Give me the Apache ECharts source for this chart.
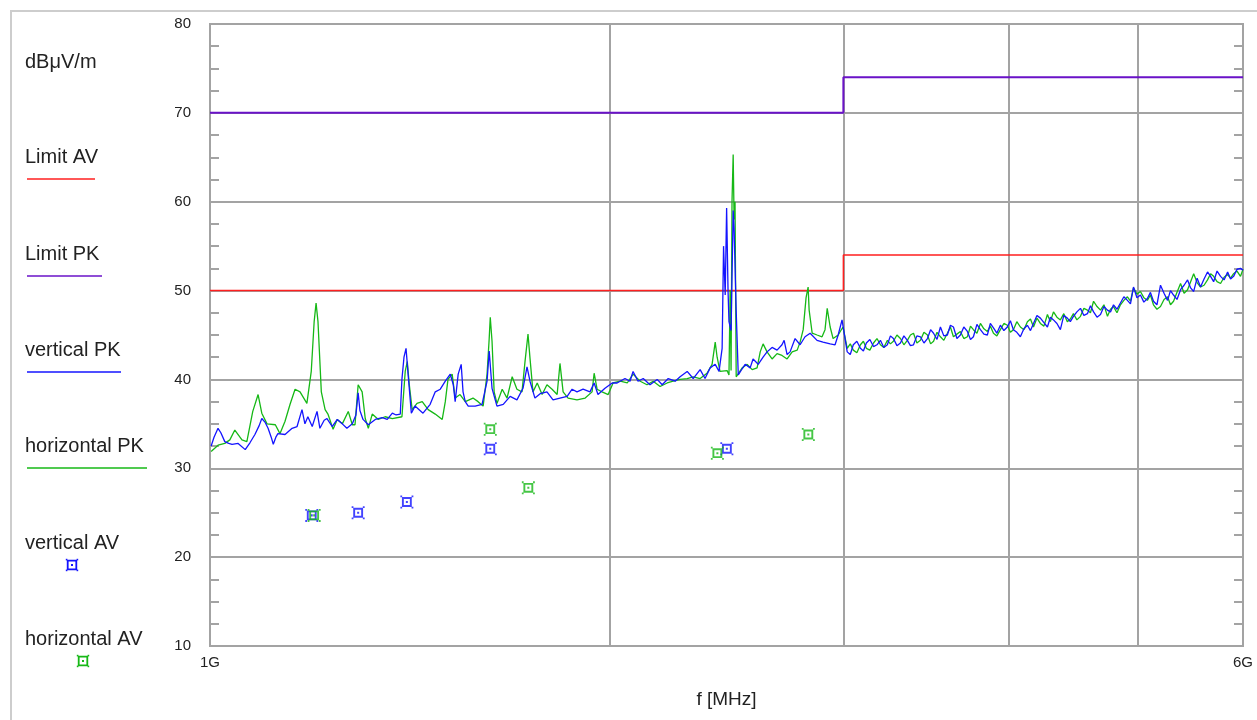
<!DOCTYPE html>
<html lang="en">
<head>
<meta charset="UTF-8">
<title>Radiated emission 1-6 GHz</title>
<script src="https://cdn.jsdelivr.net/npm/echarts@6/dist/echarts.min.js"></script>
<style>
  html, body { margin: 0; padding: 0; background: #fff; }
  #paint { width: 1257px; height: 720px; }
</style>
</head>
<body>
<div id="paint"></div>
<script>
// limits, MHz / dBuV/m
var limitFreq = [1000, 3000, 3000, 6000];
var limitAV = [50, 50, 54, 54];
var limitPK = [70, 70, 74, 74];

var xTickFreq = [1000, 2000, 3000, 4000, 5000, 6000];
var xLabelFreq = [1000, 6000];

// peak traces [MHz, dBuV/m]
var verticalPK = [
  [1002,32.5],[1007,33.5],[1014,34.5],[1019,34.0],[1026,33.0],[1033,32.8],[1039,32.7],[1050,32.8],[1063,32.1],[1072,32.9],
  [1081,33.8],[1089,34.8],[1094,35.6],[1100,35.2],[1106,34.5],[1112,33.5],[1116,32.7],[1121,33.5],[1125,33.9],[1139,33.8],
  [1153,34.5],[1163,34.7],[1173,36.6],[1179,35.0],[1185,35.8],[1194,34.7],[1204,36.4],[1210,34.5],[1219,35.4],[1225,35.6],
  [1236,34.7],[1247,35.5],[1258,35.0],[1268,34.5],[1280,35.0],[1288,36.0],[1293,38.5],[1297,36.5],[1304,35.5],[1316,34.9],
  [1332,35.5],[1348,35.7],[1360,35.5],[1372,36.2],[1381,36.0],[1391,36.1],[1395,40.0],[1400,42.5],[1405,43.5],[1410,40.6],
  [1418,36.2],[1427,37.0],[1447,36.2],[1465,37.2],[1478,38.6],[1491,38.9],[1504,39.8],[1517,40.6],[1525,39.4],[1530,37.5],
  [1538,40.6],[1546,41.7],[1551,38.6],[1557,37.5],[1565,37.0],[1584,37.0],[1603,37.2],[1617,39.8],[1623,43.2],[1631,39.0],
  [1645,37.0],[1663,37.2],[1683,38.1],[1703,37.7],[1721,39.0],[1733,41.4],[1742,39.8],[1757,37.9],[1773,38.4],[1794,38.6],
  [1813,37.7],[1835,37.9],[1858,38.1],[1874,38.9],[1890,38.6],[1910,38.9],[1933,38.6],[1947,39.6],[1960,38.3],[1984,39.0],
  [2009,39.6],[2026,39.6],[2054,40.1],[2072,39.8],[2083,40.9],[2101,39.8],[2120,40.1],[2145,39.4],[2172,40.0],[2191,39.4],
  [2214,40.1],[2241,39.8],[2260,40.3],[2288,40.9],[2312,40.1],[2340,41.1],[2360,40.1],[2381,41.3],[2402,41.7],[2418,40.9],
  [2431,43.5],[2437,55.0],[2444,49.5],[2450,59.3],[2456,50.0],[2460,46.5],[2469,45.5],[2478,59.0],[2482,57.0],[2491,47.7],
  [2500,40.5],[2517,41.2],[2530,41.7],[2552,41.3],[2565,42.3],[2588,41.7],[2610,42.5],[2628,43.1],[2651,43.6],[2674,43.3],
  [2697,43.9],[2707,44.4],[2721,42.8],[2735,43.1],[2759,44.6],[2783,43.9],[2807,44.8],[2832,45.2],[2866,44.4],[2896,44.2],
  [2932,44.0],[2957,43.9],[2973,45.0],[2993,46.7],
  [3020,43.1],[3036,42.8],[3052,43.9],[3071,44.3],[3090,43.5],[3106,43.2],[3122,44.1],[3141,44.5],[3161,43.7],[3180,43.9],
  [3199,44.4],[3218,43.6],[3238,43.9],[3255,44.9],[3272,44.6],[3292,43.8],[3312,44.1],[3332,44.9],[3352,44.4],[3370,43.8],
  [3388,43.9],[3408,44.9],[3429,44.8],[3450,44.1],[3471,44.6],[3490,45.6],[3508,45.2],[3529,44.5],[3550,45.9],[3571,44.9],
  [3593,45.0],[3612,46.1],[3631,45.9],[3653,44.6],[3675,45.0],[3697,45.9],[3720,45.4],[3740,44.5],[3759,44.8],[3782,46.2],
  [3805,45.6],[3828,45.1],[3851,45.0],[3871,46.3],[3892,45.8],[3915,45.2],[3939,46.1],[3963,45.5],[3987,45.9],[4008,46.6],
  [4029,45.6],[4053,45.3],[4078,44.8],[4103,45.7],[4128,46.1],[4150,45.5],[4172,46.3],[4197,47.2],[4222,46.9],[4248,46.4],
  [4274,45.9],[4296,47.0],[4319,46.7],[4345,46.3],[4371,45.6],[4397,47.2],[4424,46.9],[4447,46.5],[4471,47.1],[4498,47.6],
  [4526,48.0],[4553,47.2],[4581,47.4],[4605,48.3],[4630,47.6],[4658,47.0],[4686,47.3],[4714,48.2],[4743,47.8],[4768,47.6],
  [4793,48.4],[4822,47.9],[4851,48.6],[4880,49.3],[4910,48.9],[4936,48.5],[4962,50.4],[4992,49.2],[5022,49.5],[5052,48.7],
  [5083,49.1],[5110,49.8],[5137,48.8],[5168,48.4],[5200,50.6],[5232,49.7],[5264,48.9],[5291,50.0],[5319,49.5],[5351,49.0],
  [5384,50.1],[5417,50.6],[5450,51.2],[5479,50.3],[5508,49.9],[5541,51.4],[5574,50.4],[5608,51.3],[5642,52.1],[5672,51.6],
  [5702,51.0],[5736,52.2],[5771,51.6],[5806,51.2],[5842,52.1],[5872,51.3],[5903,51.6],[5938,52.4],[5974,52.5],[6000,52.3]
];

var horizontalPK = [
  [1002,31.9],[1014,32.6],[1026,32.8],[1035,33.2],[1044,34.3],[1057,33.2],[1066,33.0],[1077,36.4],[1087,38.3],[1094,36.2],
  [1104,35.0],[1120,34.9],[1129,33.9],[1139,35.3],[1149,37.2],[1159,38.9],[1169,38.6],[1183,37.3],[1192,40.9],[1198,46.5],
  [1202,48.6],[1206,46.5],[1213,38.6],[1221,36.6],[1227,36.1],[1238,34.4],[1247,35.5],[1258,35.0],[1271,36.4],[1280,34.9],
  [1286,34.9],[1293,39.4],[1302,38.6],[1309,35.6],[1316,34.5],[1325,36.1],[1339,35.5],[1355,35.8],[1372,35.6],[1395,35.8],
  [1403,40.9],[1408,42.0],[1413,39.4],[1420,36.6],[1432,37.3],[1445,37.5],[1460,36.6],[1478,36.1],[1496,35.5],[1504,37.5],
  [1511,40.0],[1522,40.6],[1530,37.9],[1543,38.3],[1557,37.5],[1578,37.9],[1592,37.5],[1606,37.0],[1617,40.6],[1623,44.6],
  [1626,47.0],[1631,44.3],[1637,38.6],[1645,37.3],[1660,38.9],[1674,37.9],[1689,40.3],[1703,38.9],[1718,38.6],[1727,42.0],
  [1736,45.1],[1742,42.4],[1751,38.6],[1764,39.6],[1779,38.3],[1794,39.4],[1810,38.9],[1826,38.3],[1835,41.8],[1845,38.6],
  [1861,37.9],[1890,37.7],[1917,37.9],[1940,38.6],[1947,40.7],[1957,38.9],[1974,38.6],[1995,38.3],[2012,39.6],[2037,39.8],
  [2062,39.6],[2083,40.6],[2109,39.8],[2134,39.4],[2157,39.8],[2183,39.2],[2210,39.6],[2233,39.8],[2260,40.0],[2288,40.1],
  [2312,40.3],[2340,40.1],[2368,40.7],[2389,41.7],[2402,44.2],[2410,42.5],[2422,40.9],[2452,41.0],[2460,40.5],[2465,50.0],
  [2469,41.0],[2473,60.0],[2478,65.3],[2482,58.0],[2486,60.0],[2491,40.3],[2517,41.3],[2539,41.7],[2561,41.1],[2583,41.3],
  [2597,43.1],[2610,44.0],[2628,43.1],[2651,42.3],[2674,42.9],[2697,42.7],[2721,42.3],[2745,43.1],[2769,43.3],[2783,44.2],
  [2798,45.6],[2812,49.2],[2822,50.4],[2827,47.8],[2842,45.2],[2866,45.0],[2891,44.8],[2906,45.6],[2917,48.0],[2932,45.9],
  [2947,44.6],[2973,45.0],[2998,45.9],
  [3020,43.5],[3036,44.0],[3052,43.3],[3071,43.0],[3090,43.9],[3106,44.3],[3122,43.5],[3141,43.3],[3161,44.1],[3180,44.6],
  [3199,43.9],[3218,43.6],[3238,44.4],[3255,44.0],[3272,44.3],[3292,45.0],[3312,44.6],[3332,43.9],[3352,44.4],[3370,45.0],
  [3388,45.2],[3408,44.1],[3429,44.4],[3450,45.3],[3471,45.0],[3490,44.0],[3508,44.3],[3529,45.3],[3550,44.8],[3571,44.4],
  [3593,45.2],[3612,45.9],[3631,44.8],[3653,45.1],[3675,45.4],[3697,44.6],[3720,44.8],[3740,46.0],[3759,45.6],[3782,45.2],
  [3805,46.3],[3828,45.7],[3851,45.4],[3871,46.0],[3892,45.2],[3915,44.9],[3939,45.6],[3963,46.3],[3987,46.1],[4008,45.3],
  [4029,45.6],[4053,46.5],[4078,45.9],[4103,45.6],[4128,46.5],[4150,46.8],[4172,45.9],[4197,46.9],[4222,46.3],[4248,46.0],
  [4274,47.3],[4296,46.5],[4319,47.6],[4345,47.0],[4371,46.7],[4397,47.4],[4424,46.5],[4447,46.8],[4471,47.4],[4498,46.7],
  [4526,47.1],[4553,48.0],[4581,47.8],[4605,47.5],[4630,48.8],[4658,48.2],[4686,47.8],[4714,48.4],[4743,47.1],[4768,47.9],
  [4793,48.2],[4822,47.5],[4851,48.4],[4880,48.9],[4910,49.3],[4936,48.8],[4962,50.3],[4992,49.6],[5022,49.9],[5052,49.2],
  [5083,48.9],[5110,49.5],[5137,48.4],[5168,47.9],[5200,48.2],[5232,49.0],[5264,49.3],[5291,48.4],[5319,48.8],[5351,49.8],
  [5384,50.8],[5417,49.7],[5450,50.1],[5479,51.0],[5508,51.9],[5541,50.9],[5574,50.4],[5608,50.6],[5642,51.2],[5672,51.9],
  [5702,51.6],[5736,51.0],[5771,50.8],[5806,51.5],[5842,51.8],[5872,51.4],[5903,51.9],[5938,52.2],[5974,51.6],[6000,52.4]
];

// average readings
var verticalAV = [[1193,24.7],[1293,25.0],[1407,26.2],[1626,32.2],[2451,32.2]];
var horizontalAV = [[1198,24.7],[1626,34.4],[1737,27.8],[2411,31.7],[2823,33.8]];

var cRed = '#ff1f1f', cPurple = '#6a12c8', cBlue = '#1414ff', cGreen = '#16b816';
var cGrid = '#a3a3a3', cText = '#222';
var fontName = 'Liberation Sans, Arial, sans-serif';

// square ring with centre dot and corner stubs
var marker = 'path://M1.6,1.6H10.4V10.4H1.6Z M3.3,3.3V8.7H8.7V3.3Z M5.1,5.1H6.9V6.9H5.1Z ' +
             'M0.2,0.2H1.8V1.8H0.2Z M10.2,0.2H11.8V1.8H10.2Z M0.2,10.2H1.8V11.8H0.2Z M10.2,10.2H11.8V11.8H10.2Z';

function toLog(pairs) {
  return pairs.map(function (p) { return [Math.log10(p[0]), p[1]]; });
}
function zipLimit(vals) {
  return limitFreq.map(function (f, i) { return [Math.log10(f), vals[i]]; });
}

var legendItems = [
  {text: 'Limit AV', color: cRed, y: 157, lineEnd: 95},
  {text: 'Limit PK', color: cPurple, y: 254, lineEnd: 102},
  {text: 'vertical PK', color: cBlue, y: 350, lineEnd: 121},
  {text: 'horizontal PK', color: cGreen, y: 446, lineEnd: 147},
  {text: 'vertical AV', color: cBlue, y: 543, markX: 72},
  {text: 'horizontal AV', color: cGreen, y: 639, markX: 83}
];

// legend marker built from small rects
function markerGroup(cx, cy, color) {
  var kids = [
    {type: 'rect', shape: {x: -4.3, y: -4.3, width: 8.6, height: 8.6}, style: {fill: 'none', stroke: color, lineWidth: 1.8}},
    {type: 'rect', shape: {x: -1, y: -1, width: 2, height: 2}, style: {fill: color}}
  ];
  [[-6.2, -6.2], [4.6, -6.2], [-6.2, 4.6], [4.6, 4.6]].forEach(function (c) {
    kids.push({type: 'rect', shape: {x: c[0], y: c[1], width: 1.6, height: 1.6}, style: {fill: color}});
  });
  return {type: 'group', x: cx, y: cy, children: kids};
}

var graphics = [
  {type: 'rect', silent: true, z: -10, shape: {x: 11, y: 11, width: 1300, height: 800},
   style: {fill: 'none', stroke: '#cdcdcd', lineWidth: 2}},
  {type: 'text', x: 25, y: 62, style: {text: 'dBμV/m', font: '20px ' + fontName, fill: cText, verticalAlign: 'middle'}}
];
legendItems.forEach(function (it) {
  graphics.push({type: 'text', x: 25, y: it.y,
    style: {text: it.text, font: '20px ' + fontName, fill: cText, verticalAlign: 'middle'}});
  if (it.lineEnd) {
    graphics.push({type: 'line', shape: {x1: 27, y1: it.y + 22, x2: it.lineEnd, y2: it.y + 22},
      style: {stroke: it.color, lineWidth: 1.5}});
  } else {
    graphics.push(markerGroup(it.markX, it.y + 22, it.color));
  }
});

var myChart = echarts.init(document.getElementById('paint'));

var minorTick = {show: true, splitNumber: 4, length: 9, lineStyle: {color: cGrid, width: 2}};

var option = {
  animation: false,
  textStyle: {fontFamily: fontName},
  grid: {left: 210, right: 14, top: 24, bottom: 74, show: true, borderColor: cGrid, borderWidth: 2, outerBoundsMode: 'none'},
  xAxis: {
    type: 'value',
    min: Math.log10(1000),
    max: Math.log10(6000),
    name: 'f [MHz]',
    nameLocation: 'middle',
    nameGap: 44,
    nameTextStyle: {fontSize: 19, color: cText},
    axisLine: {show: true, lineStyle: {color: cGrid, width: 2}},
    axisTick: {show: false, customValues: xTickFreq.map(function (f) { return Math.log10(f); })},
    axisLabel: {
      customValues: xLabelFreq.map(function (f) { return Math.log10(f); }),
      formatter: function (v) { return Math.round(Math.pow(10, v) / 1000) + 'G'; },
      fontSize: 15, color: cText, margin: 9
    },
    splitLine: {show: true, lineStyle: {color: cGrid, width: 2}}
  },
  yAxis: [{
    type: 'value', min: 10, max: 80, interval: 10,
    axisLine: {show: true, lineStyle: {color: cGrid, width: 2}},
    axisTick: {show: false, inside: true},
    minorTick: minorTick,
    axisLabel: {fontSize: 15, color: cText, margin: 19},
    splitLine: {show: true, lineStyle: {color: cGrid, width: 2}}
  }, {
    type: 'value', min: 10, max: 80, interval: 10, position: 'right',
    axisLine: {show: true, lineStyle: {color: cGrid, width: 2}},
    axisTick: {show: false, inside: true},
    minorTick: minorTick,
    axisLabel: {show: false},
    splitLine: {show: false}
  }],
  series: [
    {name: 'Limit AV', type: 'line', data: zipLimit(limitAV), symbol: 'none',
     lineStyle: {color: cRed, width: 1.5}},
    {name: 'Limit PK', type: 'line', data: zipLimit(limitPK), symbol: 'none',
     lineStyle: {color: cPurple, width: 2}},
    {name: 'horizontal PK', type: 'line', data: toLog(horizontalPK), symbol: 'none',
     lineStyle: {color: cGreen, width: 1.3}},
    {name: 'vertical PK', type: 'line', data: toLog(verticalPK), symbol: 'none',
     lineStyle: {color: cBlue, width: 1.3}},
    {name: 'vertical AV', type: 'scatter', data: toLog(verticalAV), symbol: marker, symbolSize: 13,
     itemStyle: {color: cBlue}},
    {name: 'horizontal AV', type: 'scatter', data: toLog(horizontalAV), symbol: marker, symbolSize: 13,
     itemStyle: {color: cGreen}}
  ],
  graphic: graphics
};
myChart.setOption(option);
</script>
</body>
</html>
